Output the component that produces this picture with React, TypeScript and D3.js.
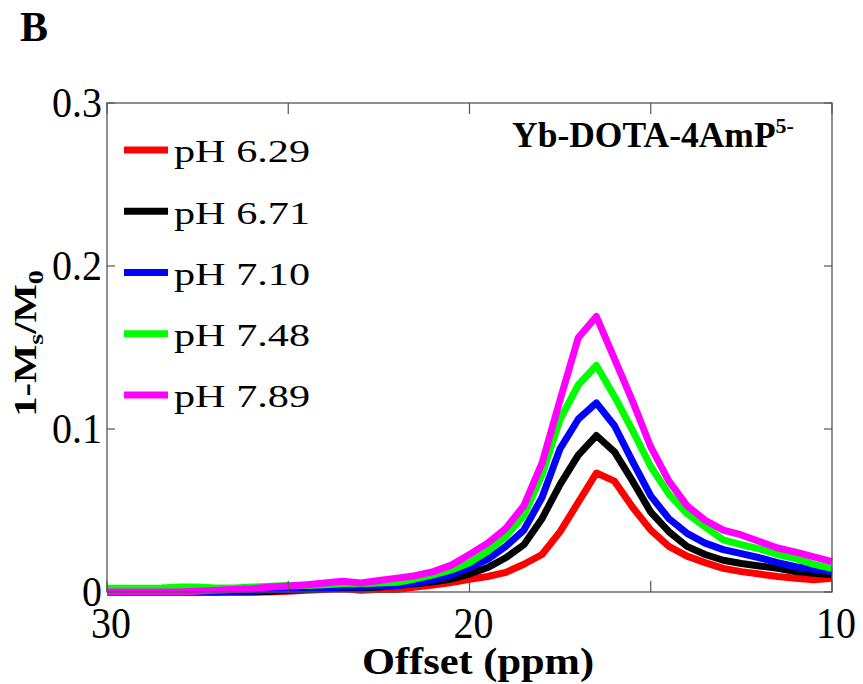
import React from "react";
import * as d3 from "d3";

const offsets = [30, 29.5, 29, 28.5, 28, 27.5, 27, 26.5, 26, 25.5, 25, 24.5, 24, 23.5, 23, 22.5, 22, 21.5, 21, 20.5, 20, 19.5, 19, 18.5, 18, 17.5, 17, 16.5, 16, 15.5, 15, 14.5, 14, 13.5, 13, 12.5, 12, 11.5, 11, 10.5, 10];

const seriesNames = ["pH 6.29", "pH 6.71", "pH 7.10", "pH 7.48", "pH 7.89"];
const seriesColors = ["#ff0000", "#000000", "#0000ff", "#00ff00", "#ff00ff"];

const ph629 = [0, 0, 0, 0, 0, 0, 0, 0, 0, 0, 0.0005, 0.001, 0.0015, 0.002, 0.001, 0.0015, 0.0015, 0.003, 0.0043, 0.0058, 0.0078, 0.0095, 0.012, 0.017, 0.023, 0.037, 0.055, 0.073, 0.068, 0.052, 0.038, 0.028, 0.022, 0.018, 0.0145, 0.0125, 0.011, 0.0095, 0.0085, 0.0075, 0.0085];
const ph671 = [0, 0, 0, 0, 0, 0, 0, 0, 0, 0.0005, 0.001, 0.0015, 0.002, 0.0025, 0.0025, 0.003, 0.004, 0.005, 0.0063, 0.008, 0.011, 0.015, 0.021, 0.029, 0.045, 0.066, 0.084, 0.096, 0.086, 0.068, 0.049, 0.037, 0.028, 0.023, 0.0195, 0.0175, 0.016, 0.0145, 0.0125, 0.0115, 0.0105];
const ph710 = [0, 0, 0, 0, 0, 0, 0, 0.0005, 0.0005, 0.001, 0.0015, 0.002, 0.0025, 0.003, 0.003, 0.0035, 0.004, 0.0055, 0.0075, 0.0105, 0.015, 0.02, 0.028, 0.038, 0.058, 0.088, 0.106, 0.116, 0.102, 0.08, 0.059, 0.045, 0.036, 0.03, 0.026, 0.0235, 0.021, 0.018, 0.0155, 0.014, 0.0125];
const ph748 = [0.0023, 0.0023, 0.0023, 0.0025, 0.003, 0.003, 0.0025, 0.0025, 0.003, 0.0035, 0.004, 0.004, 0.0045, 0.005, 0.005, 0.0055, 0.006, 0.008, 0.0105, 0.0135, 0.018, 0.025, 0.034, 0.047, 0.072, 0.106, 0.127, 0.139, 0.12, 0.099, 0.077, 0.06, 0.048, 0.04, 0.032, 0.029, 0.0265, 0.023, 0.0205, 0.017, 0.0145];
const ph789 = [0, 0, 0, 0, 0, 0.0005, 0.001, 0.0015, 0.002, 0.003, 0.0037, 0.0045, 0.0055, 0.0066, 0.0055, 0.007, 0.0085, 0.01, 0.0125, 0.0165, 0.023, 0.03, 0.039, 0.053, 0.079, 0.118, 0.156, 0.169, 0.143, 0.117, 0.089, 0.068, 0.053, 0.044, 0.038, 0.035, 0.031, 0.027, 0.0245, 0.0215, 0.0186];

const allSeries = [ph629, ph671, ph710, ph748, ph789];

const xTicks = [30, 25, 20, 15, 10];
const xTickLabels = ["30", "", "20", "", "10"];
const yTicks = [0, 0.1, 0.2, 0.3];
const yTickLabels = ["0", "0.1", "0.2", "0.3"];

const W = 863;
const H = 684;
const left = 107;
const right = 832;
const top = 103;
const bottom = 592;

const serif = "'Liberation Serif', 'Times New Roman', serif";
const axisColor = "#555";

export default function App() {
  const x = d3.scaleLinear().domain([30, 10]).range([left, right]);
  const y = d3.scaleLinear().domain([0, 0.3]).range([bottom, top]);
  const line = d3
    .line<number>()
    .x((_, i) => x(offsets[i]))
    .y((d) => y(d));

  return (
    <svg
      width={W}
      height={H}
      style={{ position: "absolute", left: 0, top: 0, background: "#fff" }}
      fontFamily={serif}
    >
      <rect x={0} y={0} width={W} height={H} fill="#fff" />
      <text x={20} y={41} fontSize={42} fontWeight="bold">B</text>

      {allSeries.map((s, i) => (
        <path
          key={i}
          d={line(s) || ""}
          fill="none"
          stroke={seriesColors[i]}
          strokeWidth={7}
          strokeLinejoin="round"
        />
      ))}

      <rect x={left} y={top} width={right - left} height={bottom - top} fill="none" stroke={axisColor} strokeWidth={1.3} />

      {xTicks.map((t, i) => (
        <g key={"xt" + i}>
          <line x1={x(t)} x2={x(t)} y1={bottom} y2={bottom - 11} stroke={axisColor} strokeWidth={1.2} />
          <line x1={x(t)} x2={x(t)} y1={top} y2={top + 11} stroke={axisColor} strokeWidth={1.2} />
          {xTickLabels[i] && (
            <g transform={`translate(${x(t) + 4},638) scale(1,1.1)`}>
              <text x={0} y={0} fontSize={40} textAnchor="middle">
                {xTickLabels[i]}
              </text>
            </g>
          )}
        </g>
      ))}

      {yTicks.map((t, i) => (
        <g key={"yt" + i}>
          <line x1={left} x2={left + 8} y1={y(t)} y2={y(t)} stroke={axisColor} strokeWidth={1.2} />
          <line x1={right} x2={right - 8} y1={y(t)} y2={y(t)} stroke={axisColor} strokeWidth={1.2} />
          <g transform={`translate(102,${y(t) + 14}) scale(1,1.08)`}>
            <text x={0} y={0} fontSize={40} textAnchor="end">
              {yTickLabels[i]}
            </text>
          </g>
        </g>
      ))}

      <text x={478} y={674} fontSize={37} fontWeight="bold" textAnchor="middle" textLength={232} lengthAdjust="spacingAndGlyphs">
        Offset (ppm)
      </text>

      <g transform="translate(36,343.5) rotate(-90) scale(1.27,1)">
        <text x={0} y={0} fontSize={32} fontWeight="bold" textAnchor="middle">
          1-M
          <tspan fontSize={22} dy={7}>s</tspan>
          <tspan dy={-7}>/M</tspan>
          <tspan fontSize={22} dy={7}>0</tspan>
        </text>
      </g>

      <text x={512} y={147} fontSize={35.5} fontWeight="bold">
        Yb-DOTA-4AmP
        <tspan fontSize={22} dy={-14}>5-</tspan>
      </text>

      {seriesNames.map((n, i) => {
        const ly = 150 + 61.25 * i;
        return (
          <g key={"lg" + i}>
            <line x1={124} x2={168} y1={ly} y2={ly} stroke={seriesColors[i]} strokeWidth={7} />
            <text x={174} y={ly + 12.3} fontSize={32} textLength={136} lengthAdjust="spacingAndGlyphs">
              {n}
            </text>
          </g>
        );
      })}
    </svg>
  );
}
